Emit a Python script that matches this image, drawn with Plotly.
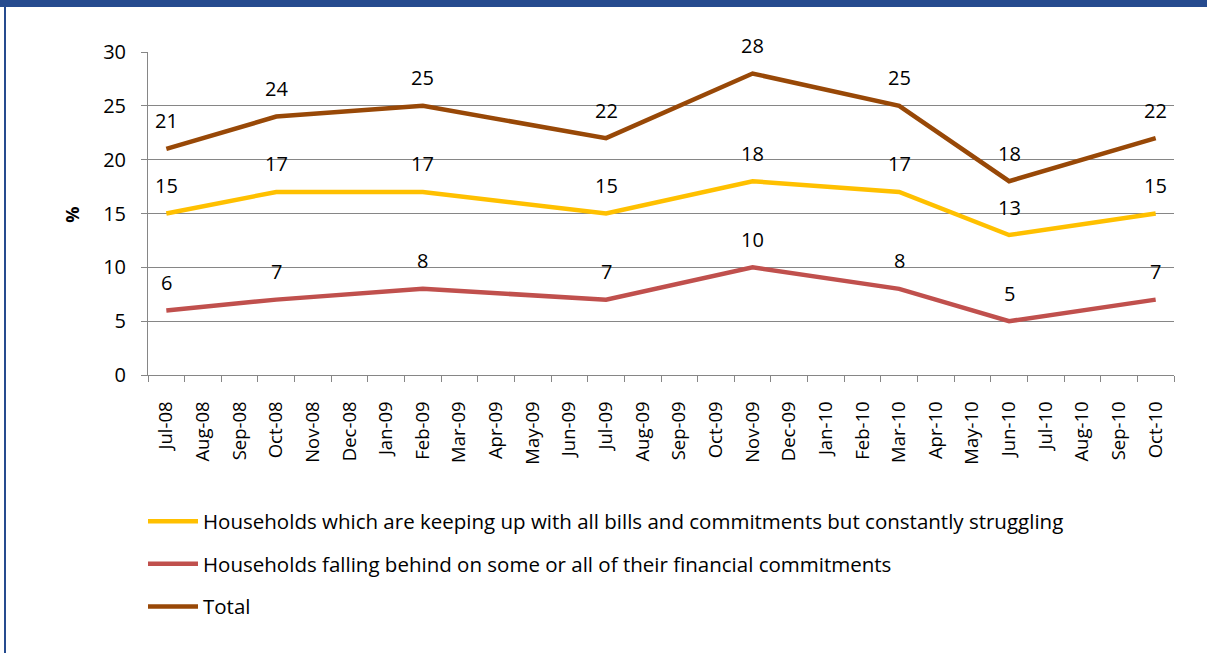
import plotly.graph_objects as go

# Monthly axis, Jul-08 .. Oct-10
months = ["Jul-08", "Aug-08", "Sep-08", "Oct-08", "Nov-08", "Dec-08", "Jan-09",
          "Feb-09", "Mar-09", "Apr-09", "May-09", "Jun-09", "Jul-09", "Aug-09",
          "Sep-09", "Oct-09", "Nov-09", "Dec-09", "Jan-10", "Feb-10", "Mar-10",
          "Apr-10", "May-10", "Jun-10", "Jul-10", "Aug-10", "Sep-10", "Oct-10"]

# Survey waves with readings
survey_months = ["Jul-08", "Oct-08", "Feb-09", "Jul-09", "Nov-09", "Mar-10", "Jun-10", "Oct-10"]
struggling = [15, 17, 17, 15, 18, 17, 13, 15]
falling_behind = [6, 7, 8, 7, 10, 8, 5, 7]
total = [21, 24, 25, 22, 28, 25, 18, 22]

series_names = [
    "Households which are keeping up with all bills and commitments but constantly struggling",
    "Households falling behind on some or all of their financial commitments",
    "Total",
]
series_colors = ["#FFC000", "#C0504D", "#984807"]

FONT = "Open Sans"
W, H = 1207, 654
L, R, T, B = 148, 33, 52, 278.5
PW, PH = W - L - R, H - T - B


def spread(values):
    lookup = dict(zip(survey_months, values))
    return [lookup.get(m) for m in months]


def px_x(x):
    return (x - L) / PW


def px_y(y):
    return (H - B - y) / PH


fig = go.Figure()
for name, vals, col in zip(series_names, [struggling, falling_behind, total], series_colors):
    fig.add_trace(go.Scatter(
        x=months, y=spread(vals), name=name, mode="lines",
        connectgaps=True, legendgroup=name,
        line=dict(color=col, width=4.5),
        hoverinfo="skip",
    ))

# Value labels above each survey point
annotations = []
for vals in [struggling, falling_behind, total]:
    for m, v in zip(survey_months, vals):
        annotations.append(dict(
            x=m, y=v, xref="x", yref="y", text=str(v), showarrow=False,
            yshift=28, font=dict(family=FONT, size=20, color="#000000"),
        ))

# Axis title "%"
annotations.append(dict(
    x=px_x(72), y=px_y(215), xref="paper", yref="paper", text="<b>%</b>",
    xanchor="center", yanchor="middle",
    showarrow=False, textangle=-90,
    font=dict(family=FONT, size=18, color="#000000"),
))

# Frame: thick top band and thin left rule
shapes = [
    dict(type="rect", xref="paper", yref="paper",
         x0=px_x(0), x1=px_x(W), y0=px_y(7), y1=px_y(0),
         fillcolor="#264B8F", line=dict(width=0), layer="above"),
    dict(type="rect", xref="paper", yref="paper",
         x0=px_x(4), x1=px_x(6), y0=px_y(H), y1=px_y(0),
         fillcolor="#264B8F", line=dict(width=0), layer="above"),
]

fig.update_layout(
    width=W, height=H,
    margin=dict(l=L, r=R, t=T, b=B, autoexpand=False),
    paper_bgcolor="white", plot_bgcolor="white",
    font=dict(family=FONT, size=18, color="#000000"),
    showlegend=True,
    legend=dict(
        x=px_x(143), xanchor="left", y=px_y(502), yanchor="top",
        orientation="v", tracegroupgap=13,
        font=dict(family=FONT, size=20.5, color="#000000"),
        bgcolor="rgba(0,0,0,0)", itemwidth=50,
    ),
    annotations=annotations,
    shapes=shapes,
)

fig.update_xaxes(
    type="category", categoryorder="array", categoryarray=months,
    range=[-0.5, len(months) - 0.5],
    showline=True, linecolor="#868686", linewidth=1,
    ticks="outside", tickson="boundaries", ticklen=6, tickcolor="#868686",
    tickangle=-90, tickfont=dict(family=FONT, size=18.5, color="#000000"),
    showgrid=False, zeroline=False, ticklabelstandoff=18,
)
fig.update_yaxes(
    range=[0, 30], dtick=5, tick0=0,
    showline=True, linecolor="#868686", linewidth=1,
    ticks="outside", ticklen=6, tickcolor="#868686",
    showgrid=True, gridcolor="#868686", gridwidth=1,
    tickfont=dict(family=FONT, size=20, color="#000000"),
    zeroline=False, ticklabelstandoff=11,
)

fig.write_html("out.html")
